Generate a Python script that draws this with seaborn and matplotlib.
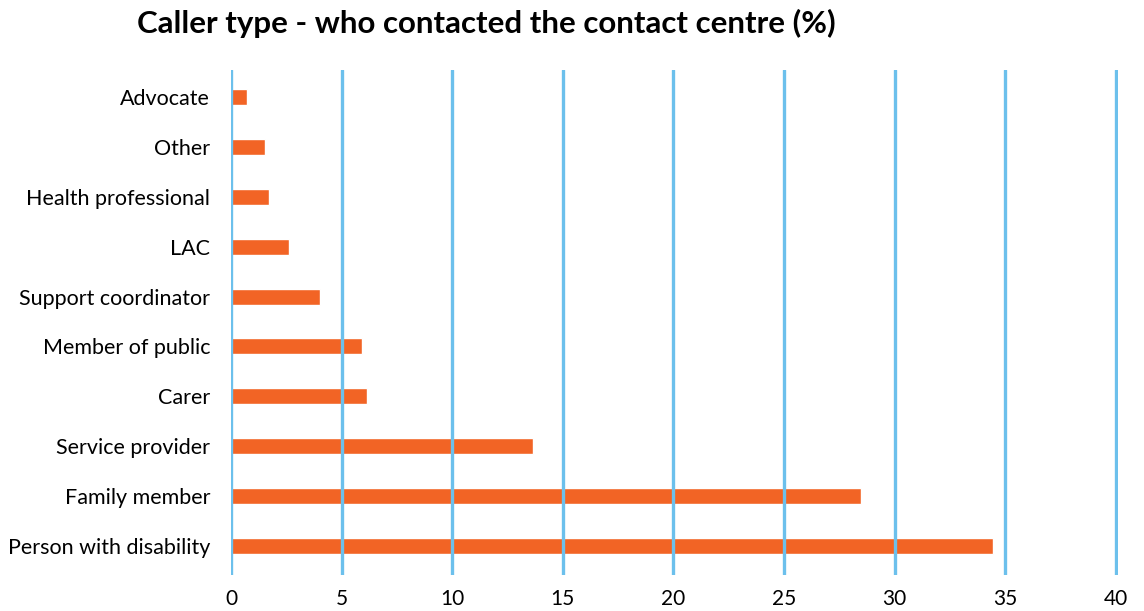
import matplotlib
matplotlib.use("Agg")
import matplotlib.pyplot as plt
import seaborn as sns
import pandas as pd

# caller types, top to bottom as in the chart
callers = ['Advocate', 'Other', 'Health professional', 'LAC', 'Support coordinator',
           'Member of public', 'Carer', 'Service provider', 'Family member',
           'Person with disability']
percent = [0.73, 1.55, 1.71, 2.63, 4.02, 5.9, 6.16, 13.66, 28.5, 34.45]
xticks = [0, 5, 10, 15, 20, 25, 30, 35, 40]

df = pd.DataFrame({'caller': callers, 'pct': percent})

sns.set_style('white')
plt.rcParams['font.family'] = ['Lato', 'DejaVu Sans']
plt.rcParams['text.color'] = 'black'

fig = plt.figure(figsize=(11.44, 6.11), dpi=100)
ax = fig.add_axes([231 / 1144, 1 - 575 / 611, (1118 - 231) / 1144, (575 - 70) / 611])

sns.barplot(data=df, x='pct', y='caller', orient='h', color='#F26425',
            width=0.32, saturation=1, ax=ax, zorder=1)

# vertical gridlines sit on top of the bars
for t in xticks:
    ax.axvline(t, color='#6CC0EC', lw=2.4, zorder=3)

ax.set_xlim(0, 40.1)
ax.set_ylim(9.58, -0.54)
ax.set_xticks(xticks)
ax.set_xlabel('')
ax.set_ylabel('')
for s in ax.spines.values():
    s.set_visible(False)
ax.tick_params(axis='both', length=0, labelsize=15.5, colors='black')
ax.tick_params(axis='x', pad=10, labelsize=15)
ax.tick_params(axis='y', pad=15)

fig.text(137 / 1144, 1 - 23 / 611, 'Caller type - who contacted the contact centre (%)',
         fontsize=22.5, fontweight='bold', va='center', ha='left', color='black')

fig.savefig('out.png', dpi=100)
